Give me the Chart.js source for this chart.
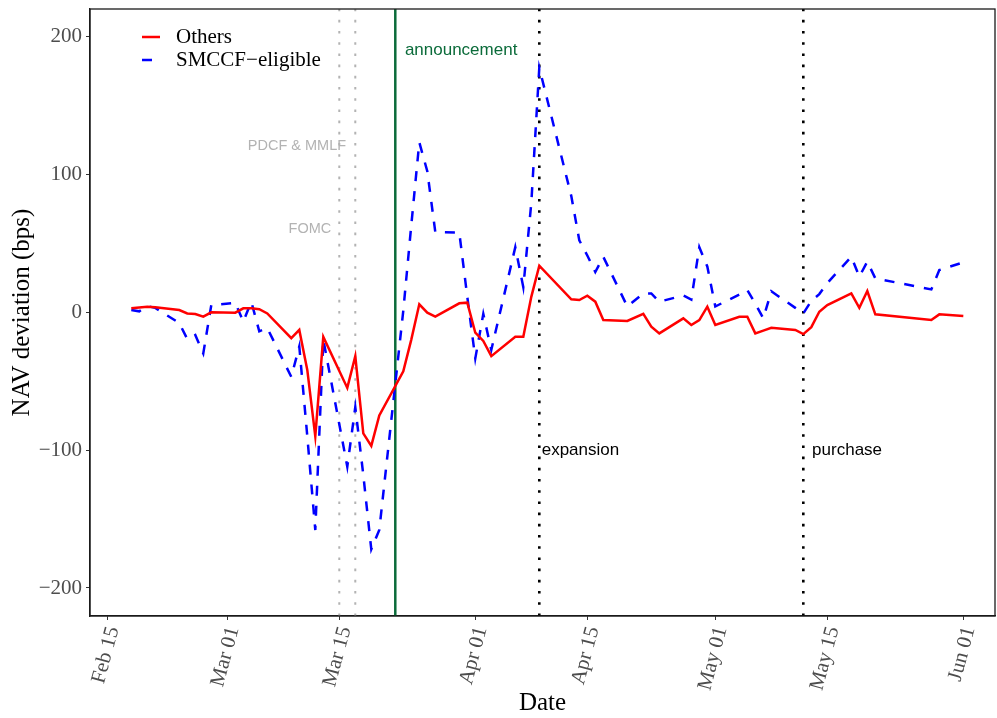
<!DOCTYPE html>
<html>
<head>
<meta charset="utf-8">
<script src="https://cdn.jsdelivr.net/npm/chart.js@4.4.1/dist/chart.umd.min.js"></script>
<style>
  html, body { margin: 0; padding: 0; background: #fff; }
</style>
</head>
<body>
<canvas id="myChart" width="997" height="718"></canvas>
<script>
// x values are days counted from Feb 15, 2020
const days = [3, 4, 5, 6, 9, 10, 11, 12, 13, 16, 17, 18, 19, 20, 23, 24, 25, 26, 27, 30, 31, 32, 33, 34,
  37, 38, 39, 40, 41, 44, 45, 46, 47, 48, 51, 52, 53, 54, 58, 59, 60, 61, 62, 65, 67, 68, 69,
  72, 73, 74, 75, 76, 79, 80, 81, 82, 83, 86, 87, 88, 89, 90, 93, 94, 95, 96, 103, 104, 107];

const others = [2.7, 3.3, 3.8, 3.4, 1.4, -1, -1.4, -3.4, -0.2, -0.5, 2.7, 2.7, 2, -1, -19, -13, -42, -90, -18, -55, -32, -88, -97, -75,
  -43, -20, 5.6, -0.5, -3.4, 6.3, 6.8, -15, -21, -32, -18, -18, 11, 33.6, 9.2, 8.7, 11.8, 7.5, -5.8, -6.5, -1.4, -10.6, -15.5,
  -4.6, -9.4, -5.8, 3.9, -9.4, -3.4, -3.4, -15.5, -13.5, -11.4, -13, -16, -11, 0.2, 5, 13.5, 3.1, 15.2, -1.7, -5.8, -1.7, -2.9];

const smccf = [1.4, 0.5, 4.3, 3, -8, -19.6, -16.7, -30, 5, 6.7, -7, 7.5, -14, -11.6, -47, -25, -90, -158, -20, -112, -69, -118, -172, -158,
  1, 63, 123, 102, 58, 57.5, 11, -33.6, -1.4, -27.5, 47, 18, 79, 177, 84, 52, 41, 29, 40, 4, 13.5, 13.5, 7.5,
  12, 9, 47, 33, 4, 12.7, 16, 6, -4.6, 15, 3, -1, 8, 13, 21, 40, 25.6, 36.5, 24.4, 16.4, 30.4, 36];

const tickDays = [0, 15, 29, 46, 60, 76, 90, 107];
const tickLabels = ['Feb 15', 'Mar 01', 'Mar 15', 'Apr 01', 'Apr 15', 'May 01', 'May 15', 'Jun 01'];
const yTicks = [-200, -100, 0, 100, 200];

const eventDays = [29, 31, 36, 54, 87];
const eventNames = ['FOMC', 'PDCF & MMLF', 'announcement', 'expansion', 'purchase'];

const SERIF = '"Liberation Serif", "DejaVu Serif", serif';
const SANS = '"Liberation Sans", Arial, sans-serif';

// how each event line and its label is drawn
const eventStyle = [
  { color: '#b3b3b3', width: 2, dash: [2.6, 8.6], textColor: '#b3b3b3', size: 14.5, labelDay: 28, labelValue: 60, align: 'right' },
  { color: '#b3b3b3', width: 2, dash: [2.6, 8.6], textColor: '#b3b3b3', size: 14.5, labelDay: 29.85, labelValue: 120, align: 'right' },
  { color: '#0b6b3a', width: 2.5, dash: [], textColor: '#0b6b3a', size: 17, labelDay: 37.2, labelValue: 190, align: 'left' },
  { color: '#000000', width: 2.6, dash: [2.6, 8.6], textColor: '#000000', size: 17, labelDay: 54.3, labelValue: -100, align: 'left' },
  { color: '#000000', width: 2.6, dash: [2.6, 8.6], textColor: '#000000', size: 17, labelDay: 88.1, labelValue: -100, align: 'left' }
];

const eventsPlugin = {
  id: 'events',
  beforeDatasetsDraw(chart) {
    const { ctx, chartArea: a, scales: { x, y } } = chart;
    ctx.save();
    eventDays.forEach((d, i) => {
      const s = eventStyle[i];
      const px = x.getPixelForValue(d);
      ctx.beginPath();
      ctx.strokeStyle = s.color;
      ctx.lineWidth = s.width;
      ctx.setLineDash(s.dash);
      ctx.moveTo(px, a.bottom);
      ctx.lineTo(px, a.top);
      ctx.stroke();
    });
    ctx.setLineDash([]);
    eventNames.forEach((name, i) => {
      const s = eventStyle[i];
      ctx.font = s.size + 'px ' + SANS;
      ctx.fillStyle = s.textColor;
      ctx.textAlign = s.align;
      ctx.textBaseline = 'middle';
      ctx.fillText(name, x.getPixelForValue(s.labelDay), y.getPixelForValue(s.labelValue));
    });
    ctx.restore();
  },
  afterDraw(chart) {
    const { ctx, chartArea: a } = chart;
    ctx.save();
    // panel border
    ctx.strokeStyle = '#1a1a1a';
    ctx.lineWidth = 1.3;
    ctx.strokeRect(a.left, a.top, a.right - a.left, a.bottom - a.top);
    // legend
    chart.data.datasets.forEach((ds, i) => {
      const ly = a.top + 28 + i * 23;
      ctx.beginPath();
      ctx.strokeStyle = ds.borderColor;
      ctx.lineWidth = ds.borderWidth;
      ctx.setLineDash(ds.borderDash || []);
      ctx.moveTo(a.left + 52, ly);
      ctx.lineTo(a.left + 70, ly);
      ctx.stroke();
      ctx.setLineDash([]);
      ctx.font = '21px ' + SERIF;
      ctx.fillStyle = '#000';
      ctx.textAlign = 'left';
      ctx.textBaseline = 'middle';
      ctx.fillText(ds.label, a.left + 86, ly);
    });
    ctx.restore();
  }
};

const ctx = document.getElementById('myChart');

new Chart(ctx, {
  type: 'line',
  data: {
    datasets: [
      {
        label: 'Others',
        data: days.map((d, i) => ({ x: d, y: others[i] })),
        borderColor: '#ff0000',
        borderWidth: 2.5,
        pointRadius: 0,
        tension: 0
      },
      {
        label: 'SMCCF\u2212eligible',
        data: days.map((d, i) => ({ x: d, y: smccf[i] })),
        borderColor: '#0000ff',
        borderWidth: 2.5,
        borderDash: [10, 10],
        pointRadius: 0,
        tension: 0
      }
    ]
  },
  options: {
    responsive: false,
    animation: false,
    layout: { padding: { top: 9, right: 2, left: 0, bottom: 0 } },
    plugins: {
      legend: { display: false },
      tooltip: { enabled: false }
    },
    scales: {
      x: {
        type: 'linear',
        min: -2.16,
        max: 110.96,
        afterBuildTicks: (scale) => { scale.ticks = tickDays.map(v => ({ value: v })); },
        afterFit: (scale) => {
          scale.height = 102;
          scale.paddingLeft = 0;
          scale.paddingRight = 0;
        },
        grid: { display: true, drawOnChartArea: false, drawTicks: true, tickLength: 4, color: '#333' },
        border: { display: true, color: '#1a1a1a', width: 1.3 },
        ticks: {
          autoSkip: false,
          maxRotation: 75,
          minRotation: 75,
          padding: 4,
          labelOffset: 6,
          color: '#4d4d4d',
          font: { family: SERIF, size: 21 },
          callback: (v) => tickLabels[tickDays.indexOf(v)]
        },
        title: {
          display: true,
          text: 'Date',
          color: '#000',
          font: { family: SERIF, size: 25 },
          padding: { top: 0, bottom: 0 }
        }
      },
      y: {
        min: -220.3,
        max: 219.6,
        afterBuildTicks: (scale) => { scale.ticks = yTicks.map(v => ({ value: v })); },
        afterFit: (scale) => {
          scale.width = 90;
          scale.paddingTop = 0;
          scale.paddingBottom = 0;
        },
        grid: { display: true, drawOnChartArea: false, drawTicks: true, tickLength: 4, color: '#333' },
        border: { display: true, color: '#1a1a1a', width: 1.3 },
        ticks: {
          padding: 4,
          color: '#4d4d4d',
          font: { family: SERIF, size: 21 },
          callback: (v) => (v < 0 ? '\u2212' + Math.abs(v) : String(v))
        },
        title: {
          display: true,
          text: 'NAV deviation (bps)',
          color: '#000',
          font: { family: SERIF, size: 25 },
          padding: { top: 7, bottom: 0 }
        }
      }
    }
  },
  plugins: [eventsPlugin]
});
</script>
</body>
</html>
